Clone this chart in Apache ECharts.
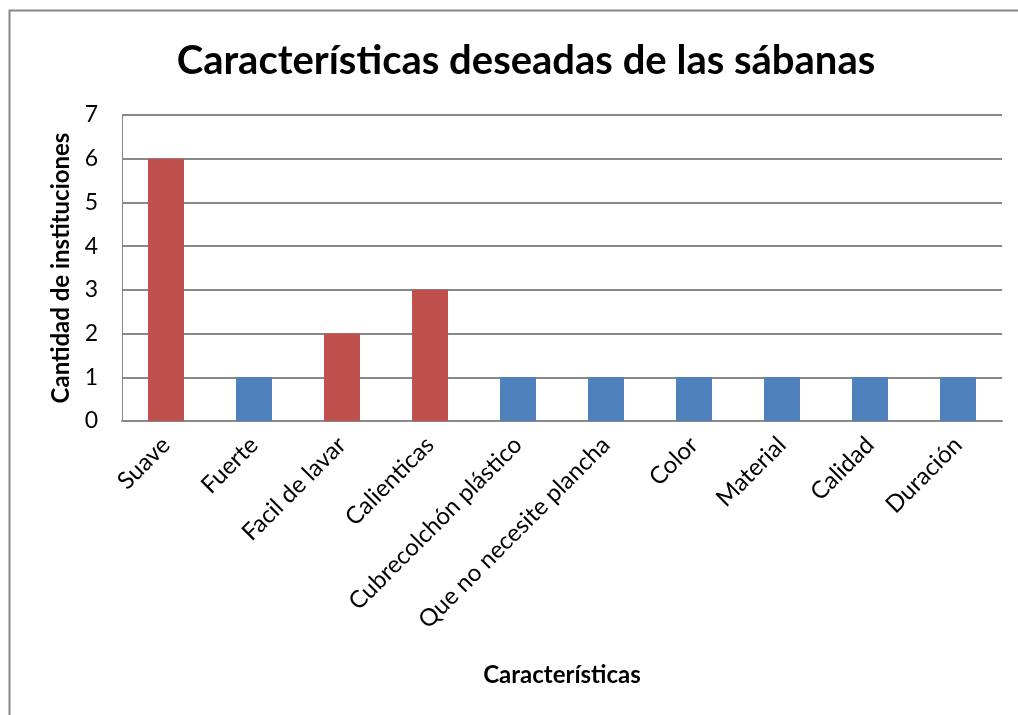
<!DOCTYPE html>
<html>
<head>
<meta charset="utf-8">
<script src="https://cdn.jsdelivr.net/npm/echarts@6/dist/echarts.min.js"></script>
<style>html,body{margin:0;padding:0;background:#fff}#c{width:1018px;height:715px}</style>
</head>
<body>
<div id="c"></div>
<script>
var categories = ['Suave','Fuerte','Facil de lavar','Calienticas','Cubrecolchón plástico','Que no necesite plancha','Color','Material','Calidad','Duración'];
var values = [6,1,2,3,1,1,1,1,1,1];
var groups = ['a','b','a','a','b','b','b','b','b','b'];
var yTicks = [0,1,2,3,4,5,6,7];

var groupColors = {a:'#C0504D', b:'#4F81BD'};
var font = 'Lato, "Open Sans", sans-serif';
var chart = echarts.init(document.getElementById('c'));
chart.setOption({
  animation:false,
  backgroundColor:'#fff',
  graphic:[{type:'rect',shape:{x:9.5,y:10.5,width:1100,height:800},style:{fill:'none',stroke:'#888',lineWidth:2},z:-1}],
  title:{text:'Características deseadas de las sábanas',left:521,textAlign:'center',top:36,
    textStyle:{fontFamily:font,fontSize:40,fontWeight:'bold',color:'#000'}},
  grid:{left:122,right:16,top:115,bottom:294},
  xAxis:{type:'category',data:categories,
    name:'Características',nameLocation:'middle',nameGap:242,
    nameTextStyle:{fontFamily:font,fontSize:24,fontWeight:'bold',color:'#000'},
    axisLine:{lineStyle:{color:'#888',width:2}},axisTick:{show:false},
    axisLabel:{rotate:45,interval:0,fontFamily:font,fontSize:24,color:'#000',margin:20}},
  yAxis:{type:'value',min:0,max:7,interval:1,
    name:'Cantidad de instituciones',nameLocation:'middle',nameGap:48,
    nameTextStyle:{fontFamily:font,fontSize:24,fontWeight:'bold',color:'#000'},
    axisLine:{show:true,lineStyle:{color:'#888',width:1}},axisTick:{show:false},
    axisLabel:{fontFamily:font,fontSize:23,color:'#000',margin:24,formatter:function(v){return yTicks.indexOf(v)>=0?String(v):'';}},
    splitLine:{lineStyle:{color:'#888',width:2}}},
  series:[{type:'bar',barWidth:36,
    data:values.map(function(v,i){return {value:v,itemStyle:{color:groupColors[groups[i]]}};})}]
});
</script>
</body>
</html>
